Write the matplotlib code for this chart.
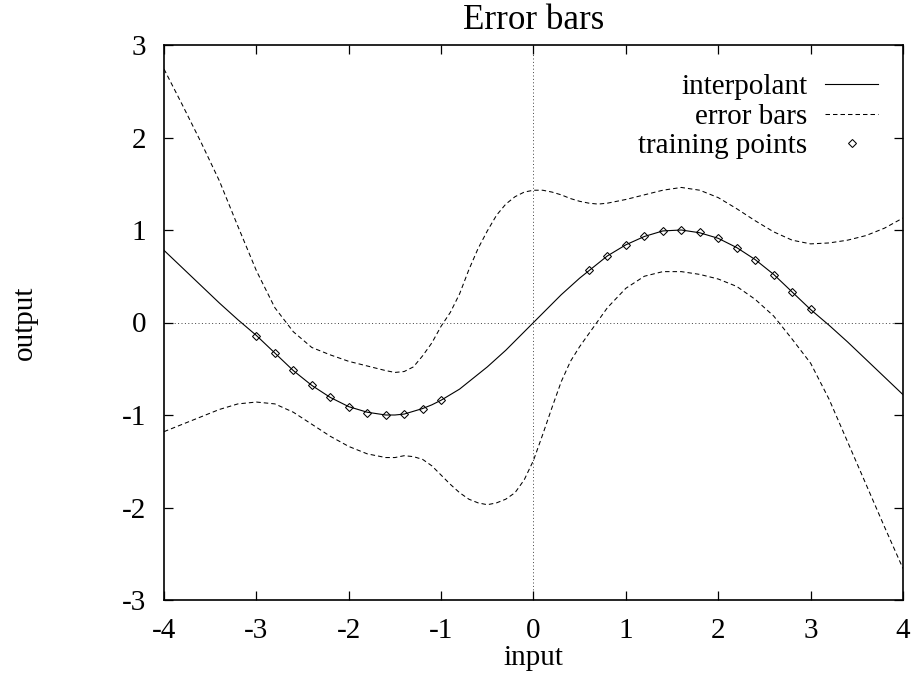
import matplotlib
matplotlib.use("Agg")
import matplotlib.pyplot as plt

# curve samples: step 0.2, with step 0.1 between -1.6 and 0.8
x_grid = [-4.0, -3.8, -3.6, -3.4, -3.2, -3.0, -2.8, -2.6, -2.4, -2.2, -2.0, -1.8,
          -1.6, -1.5, -1.4, -1.3, -1.2, -1.1, -1.0, -0.9, -0.8, -0.7, -0.6, -0.5,
          -0.4, -0.3, -0.2, -0.1, 0.0, 0.1, 0.2, 0.3, 0.4, 0.5, 0.6, 0.7, 0.8,
          1.0, 1.2, 1.4, 1.6, 1.8, 2.0, 2.2, 2.4, 2.6, 2.8, 3.0, 3.2, 3.4, 3.6, 3.8, 4.0]

interpolant = [0.78, 0.59, 0.40, 0.21, 0.03, -0.14, -0.33, -0.52, -0.68, -0.81, -0.91, -0.97,
               -1.00, -1.00, -0.99, -0.96, -0.93, -0.89, -0.84, -0.78, -0.72, -0.64, -0.56, -0.48,
               -0.39, -0.30, -0.20, -0.10, 0.00, 0.10, 0.20, 0.30, 0.39, 0.48, 0.56, 0.64, 0.72,
               0.84, 0.93, 0.99, 1.00, 0.97, 0.91, 0.81, 0.68, 0.52, 0.33, 0.14, -0.03, -0.21, -0.40, -0.59, -0.78]

err_upper = [2.74, 2.35, 1.95, 1.53, 1.04, 0.56, 0.16, -0.10, -0.27, -0.35, -0.42, -0.47,
             -0.52, -0.54, -0.53, -0.48, -0.36, -0.22, -0.04, 0.11, 0.31, 0.57, 0.80, 0.99,
             1.16, 1.28, 1.36, 1.41, 1.43, 1.43, 1.41, 1.38, 1.34, 1.31, 1.29, 1.28, 1.29,
             1.33, 1.38, 1.43, 1.46, 1.43, 1.35, 1.23, 1.10, 0.98, 0.89, 0.85, 0.86, 0.89, 0.94, 1.02, 1.13]

err_lower = [-1.18, -1.10, -1.02, -0.94, -0.88, -0.86, -0.88, -0.97, -1.10, -1.23, -1.34, -1.42,
             -1.46, -1.46, -1.44, -1.45, -1.48, -1.55, -1.65, -1.75, -1.84, -1.91, -1.95, -1.97,
             -1.95, -1.91, -1.84, -1.70, -1.49, -1.21, -0.92, -0.64, -0.42, -0.26, -0.12, 0.02, 0.16,
             0.37, 0.50, 0.55, 0.55, 0.52, 0.47, 0.39, 0.25, 0.07, -0.18, -0.44, -0.83, -1.29, -1.75, -2.21, -2.66]

x_train = [-3.0, -2.8, -2.6, -2.4, -2.2, -2.0, -1.8, -1.6, -1.4, -1.2, -1.0,
           0.6, 0.8, 1.0, 1.2, 1.4, 1.6, 1.8, 2.0, 2.2, 2.4, 2.6, 2.8, 3.0]
y_train = [-0.141, -0.335, -0.516, -0.675, -0.808, -0.909, -0.974, -1.000, -0.985, -0.932, -0.841,
           0.565, 0.717, 0.841, 0.932, 0.985, 1.000, 0.974, 0.909, 0.808, 0.675, 0.516, 0.335, 0.141]

tick_x = [-4, -3, -2, -1, 0, 1, 2, 3, 4]
tick_y = [-3, -2, -1, 0, 1, 2, 3]

plt.rcParams["font.family"] = ["Liberation Serif", "DejaVu Serif"]
plt.rcParams["axes.unicode_minus"] = False
plt.rcParams["font.size"] = 21

fig = plt.figure(figsize=(9.12, 6.75), dpi=100)
ax = fig.add_axes([164 / 912, 75 / 675, 739 / 912, 555 / 675])

# zero axes
ax.axhline(0, color="0.25", lw=0.7, ls=(0, (1, 2.5)), zorder=1)
ax.axvline(0, color="0.25", lw=0.7, ls=(0, (1, 2.5)), zorder=1)

dash = (0, (4.3, 2.9))
ax.plot(x_grid, interpolant, color="black", lw=0.8, label="interpolant")
ax.plot(x_grid, err_upper, color="black", lw=0.75, ls=dash, label="error bars")
ax.plot(x_grid, err_lower, color="black", lw=0.75, ls=dash)
ax.plot(x_train, y_train, ls="none", marker="D", ms=3.7, mfc="none", mec="black",
        mew=0.75, label="training points")

ax.set_xlim(-4, 4)
ax.set_ylim(-3, 3)
ax.set_xticks(tick_x)
ax.set_yticks(tick_y)
ax.set_xticklabels([str(v) for v in tick_x])
ax.set_yticklabels([str(v) for v in tick_y])
ax.tick_params(direction="in", top=True, right=True, length=6.5, width=0.9)
ax.tick_params(axis="x", pad=13)
ax.tick_params(axis="y", pad=13)
for sp in ax.spines.values():
    sp.set_linewidth(1.2)

ax.set_title("Error bars", pad=11.5)
ax.set_xlabel("input", labelpad=1)
ax.set_ylabel("output", labelpad=60)

ax.legend(loc="upper right", bbox_to_anchor=(878 / 912, 1 - 74 / 675),
          bbox_transform=fig.transFigure, frameon=False, markerfirst=False,
          handlelength=1.8, handletextpad=0.63, labelspacing=0.1,
          borderpad=0, borderaxespad=0, numpoints=1)

fig.savefig("out.png", dpi=100)
